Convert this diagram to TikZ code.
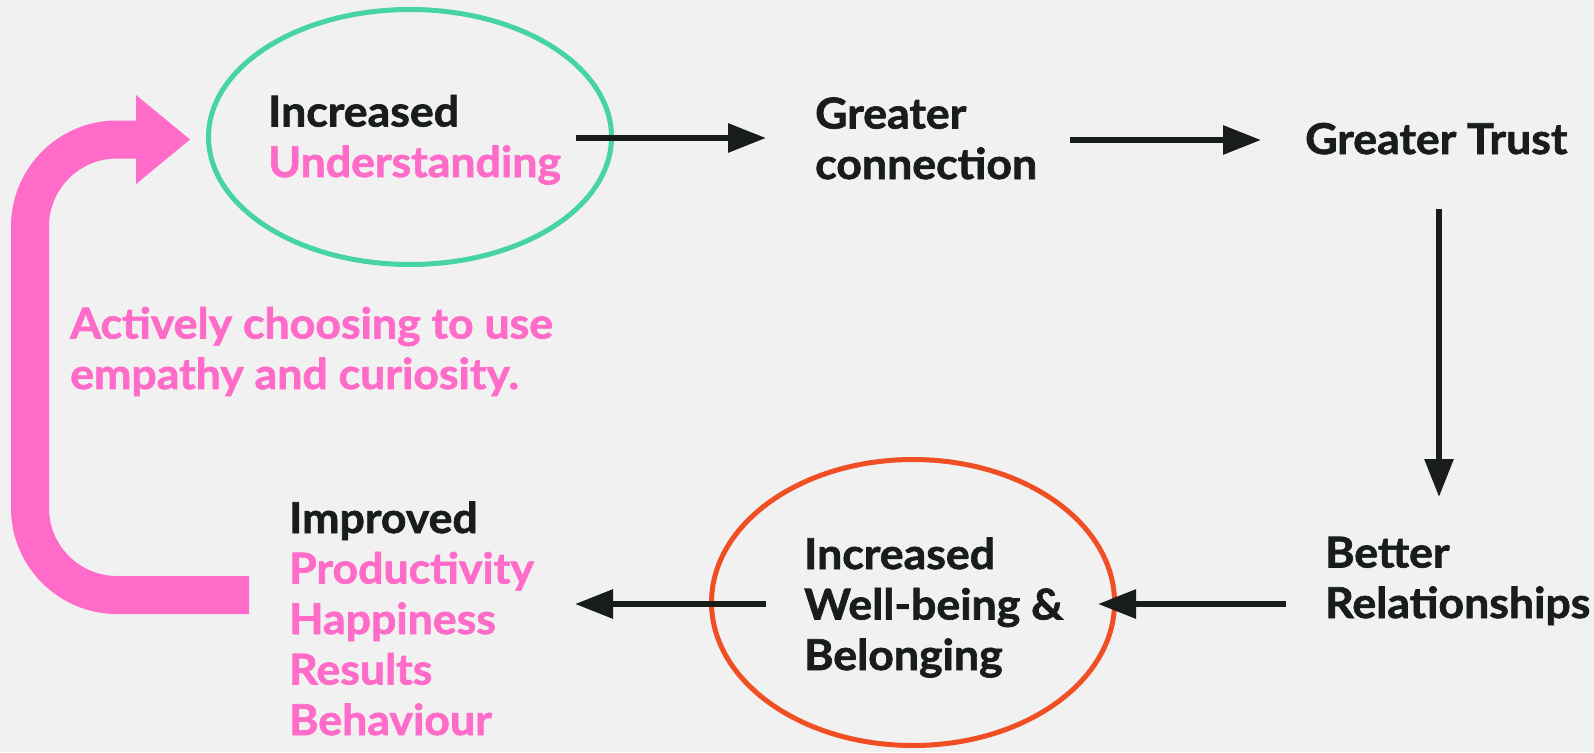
\documentclass[tikz,border=0pt]{standalone}
\usepackage{fontspec}
\setmainfont{Lato}[FakeStretch=1.05,BoldFeatures={FakeBold=1.6}]
\usetikzlibrary{arrows.meta,shapes.geometric,calc}
\definecolor{bg}{RGB}{241,241,241}
\definecolor{ink}{RGB}{24,29,27}
\definecolor{hot}{RGB}{255,107,200}
\definecolor{mint}{RGB}{70,212,160}
\definecolor{flame}{RGB}{240,78,35}
\begin{document}
\begin{tikzpicture}[x=1pt,y=-1pt,
  lbl/.style={anchor=base west,inner sep=0pt,align=left,text=ink,
    font=\fontsize{42.5}{50.5}\selectfont\bfseries},
  ring/.style={ellipse,draw,line width=5pt,inner sep=0pt},
  flow/.style={draw=ink,line width=6pt,-{Triangle[length=38pt,width=28pt]}},
]
\fill[bg] (0,0) rectangle (1594,752);
\useasboundingbox (0,0) rectangle (1594,752);

% outlined stages
\node[ring,draw=mint,minimum width=403pt,minimum height=255pt] (U) at (410,137) {};
\node[ring,draw=flame,minimum width=403pt,minimum height=286pt] (W) at (913,602.5) {};

% stage labels (anchored on the baseline of their last line)
\node[lbl] (t1) at (268,177) {Increased\\\textcolor{hot}{Understanding}};
\node[lbl] (t2) at (815,179) {Greater\\connection};
\node[lbl] (t3) at (1305,154) {Greater Trust};
\node[lbl] (t4) at (1325,618) {Better\\Relationships};
\node[lbl] (t5) at (804,670) {Increased\\Well-being \&\\Belonging};
\node[lbl] (t6) at (289,735) {Improved\\\textcolor{hot}{Productivity}\\\textcolor{hot}{Happiness}\\\textcolor{hot}{Results}\\\textcolor{hot}{Behaviour}};
\node[lbl,text=hot] (t7) at (70,389) {Actively choosing to use\\empathy and curiosity.};

% arrow anchor points
\coordinate (a1s) at ($(U.east)+(-38,1)$);
\coordinate (a1e) at ($(t2.west)+(-49,0)$);
\coordinate (a2s) at (1070,140);
\coordinate (a2e) at (1261,140);
\coordinate (a3s) at (1439,209);
\coordinate (a3e) at (1439,497);
\coordinate (a4s) at (1286,604);
\coordinate (a4e) at ($(W.east)+(-19,1.5)$);
\coordinate (a5s) at (766,604);
\coordinate (a5e) at (575,604);

\draw[flow] (a1s) -- (a1e |- a1s);
\draw[flow] (a2s) -- (a2e);
\draw[flow] (a3s) -- (a3e);
\draw[flow] (a4s) -- (a4s -| a4e);
\draw[flow] (a5s) -- (a5e);

% feedback loop back to the start
\coordinate (p0) at (249,595);
\coordinate (p1) at (30,595);
\coordinate (p2) at (30,139.5);
\coordinate (p3) at (140,139.5);
\draw[hot,line width=38pt,rounded corners=87pt] (p0) -- (p1) -- (p2) -- (p3);
\fill[hot] (136,95) -- (190,139.5) -- (136,184) -- cycle;
\end{tikzpicture}
\end{document}
